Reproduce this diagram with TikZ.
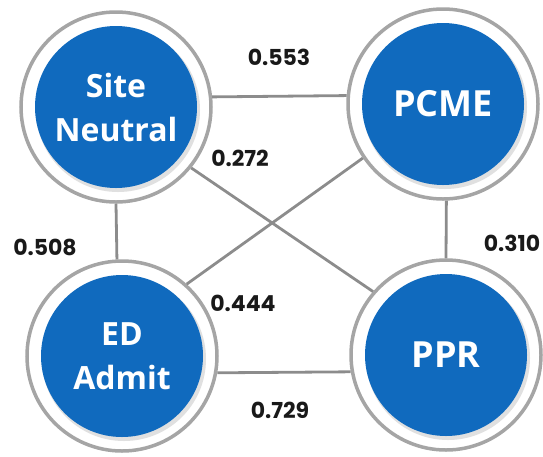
\documentclass[tikz,border=0pt]{standalone}
\usepackage{fontspec}
\setmainfont{Open Sans}
\newfontfamily\numfont{Poppins}
\definecolor{nodeblue}{RGB}{16,106,190}
\definecolor{ringgray}{RGB}{165,165,165}
\definecolor{linegray}{RGB}{140,140,140}
\begin{document}
\begin{tikzpicture}[x=1pt,y=-1pt,
  ring/.style={circle, draw=ringgray, line width=3.5pt, fill=white, minimum size=190pt, inner sep=0pt},
  core/.style={circle, fill=nodeblue, minimum size=162pt, inner sep=0pt, text=white, align=center},
  shade/.style={circle, fill=black!12, minimum size=164pt, inner sep=0pt},
  two/.style={font=\fontsize{32}{44}\selectfont\bfseries},
  one/.style={font=\fontsize{36}{44}\selectfont\bfseries},
  edge/.style={draw=linegray, line width=2.8pt},
  lbl/.style={font=\numfont\fontsize{22}{26}\selectfont\bfseries, text=black!90}]
\useasboundingbox (0,0) rectangle (543,456);
% rings
\node[ring] (sn) at (116,107) {};
\node[ring] (pc) at (443,104) {};
\node[ring] (ed) at (122,356) {};
\node[ring] (pp) at (446,355) {};
% soft shadows
\node[shade] (sns) at (118,110) {};
\node[shade] (pcs) at (445,107) {};
\node[shade] (eds) at (124,359) {};
\node[shade] (pps) at (448,358) {};
% blue cores
\node[core, two] (sni) at (sn) {Site\\Neutral};
\node[core, one] (pci) at (pc) {PCME};
\node[core, two] (edi) at (ed) {ED\\Admit};
\node[core, one] (ppi) at (pp) {PPR};
% connectors
\draw[edge] (sn.6) -- (pc.175);
\draw[edge] (ed.-10) -- (pp.190);
\draw[edge] (sn.270) -- (ed.93);
\draw[edge] (pc.-88) -- (pp.90);
\draw[edge] (sn.-39) -- (pp.139);
\draw[edge] (pc.214) -- (ed.48);
% labels
\node[lbl] (l1) at (279,57) {0.553};
\node[lbl] (l2) at (240,158) {0.272};
\node[lbl] (l3) at (45,247) {0.508};
\node[lbl] (l4) at (512,243) {0.310};
\node[lbl] (l5) at (243,303) {0.444};
\node[lbl] (l6) at (280,410) {0.729};
\end{tikzpicture}
\end{document}
